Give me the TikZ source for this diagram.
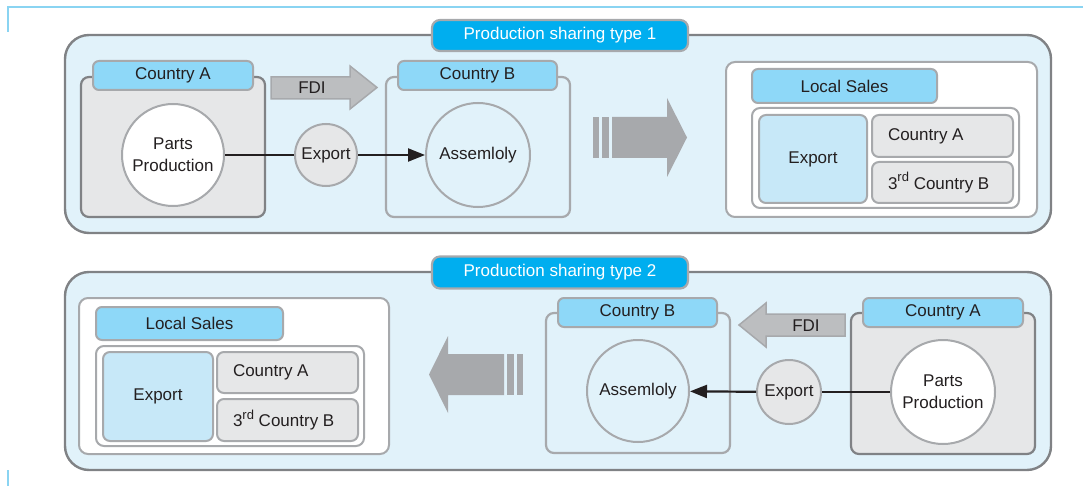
\documentclass[tikz,border=0pt]{standalone}
\usepackage{fontspec}
\setmainfont{Liberation Sans}
\usetikzlibrary{arrows.meta}

\definecolor{paneblue}{HTML}{E1F2FA}
\definecolor{framegray}{HTML}{808285}
\definecolor{edgegray}{HTML}{A7A9AC}
\definecolor{tabcyan}{HTML}{00AEEF}
\definecolor{hdrblue}{HTML}{8ED8F8}
\definecolor{boxgray}{HTML}{E6E7E8}
\definecolor{expblue}{HTML}{C7E8F8}
\definecolor{fdigray}{HTML}{BCBEC0}
\definecolor{inkgray}{HTML}{231F20}
\definecolor{decoblue}{HTML}{8AD4F2}

\newcommand{\rdsup}{\raisebox{0.42em}{\fontsize{13}{13}\selectfont rd}}

\begin{document}
\begin{tikzpicture}[
    x=1pt, y=-1pt,
    >={Triangle[length=17pt,width=13pt]},
    every node/.style={align=center, inner sep=0pt, text=inkgray,
        font=\fontsize{17}{22}\selectfont},
    panel/.style={
        draw=framegray,
        line width=2.4pt,
        fill=paneblue,
        rounded corners=24pt
    },
    tab/.style={
        draw=edgegray,
        line width=2.2pt,
        fill=tabcyan,
        rounded corners=8pt,
        text=white
    },
    ctrybox/.style={
        draw=framegray,
        line width=2.2pt,
        fill=boxgray,
        rounded corners=8pt
    },
    hdr/.style={
        draw=edgegray,
        line width=2pt,
        fill=hdrblue,
        rounded corners=6pt
    },
    salesbox/.style={
        draw=edgegray,
        line width=2pt,
        fill=white,
        rounded corners=9pt
    },
    cell/.style={
        draw=edgegray,
        line width=2pt,
        fill=boxgray,
        rounded corners=7pt
    },
    namecell/.style={
        cell,
        minimum width=141,
        text width=109pt,
        align=flush left
    },
    site/.style={
        circle,
        draw=edgegray,
        line width=2pt
    },
    flow/.style={
        ->,
        line width=2.2pt,
        draw=inkgray
    },
    fdiarrow/.style={
        draw=edgegray,
        line width=1.5pt,
        fill=fdigray
    },
    bigarrow/.style={
        fill=edgegray
    },
    deco/.style={
        draw=decoblue,
        line width=1.2pt
    }
]
\useasboundingbox (0,0) rectangle (1083,486);

% corner marks
\draw[deco] (8,32) -- (8,7) -- (1083,7);
\draw[deco] (8,470) -- (8,486);

% ---------- type 1 ----------
\node[panel, minimum width=986, minimum height=198] (panelA) at (558,134) {};
\node[tab, minimum width=256, minimum height=31] (tabA) at (560,35.5) {Production sharing type 1};

\node[ctrybox, minimum width=184, minimum height=140] (ctryA1) at (173,147) {};
\node[hdr, minimum width=160, minimum height=29] (ctryA1h) at (173,75.5) {Country A};
\node[site, fill=white, minimum size=102] (parts1) at (173,155) {Parts\\Production};

\draw[fdiarrow] (271,77) -- (350,77) -- (350,66) -- (377,87.5)
    -- (350,109) -- (350,99) -- (271,99) -- cycle;
\node (fdi1) at (312,88) {FDI};

\node[site, fill=boxgray, minimum size=62] (exp1) at (326,155) {Export};

\node[ctrybox, draw=edgegray, fill=paneblue, minimum width=184, minimum height=140] (ctryB1) at (478,147) {};
\node[hdr, minimum width=159, minimum height=29] (ctryB1h) at (477.5,75.5) {Country B};
\node[site, fill=paneblue, minimum size=104] (asm1) at (478,155) {Assemloly};

\draw[flow, -] (parts1) -- (exp1);
\draw[flow] (exp1) -- (asm1);

\fill[bigarrow] (593,117) rectangle (599,158);
\fill[bigarrow] (602,117) rectangle (609,158);
\fill[bigarrow] (612,117) -- (667,117) -- (667,98) -- (687,137.5)
    -- (667,177) -- (667,158) -- (612,158) -- cycle;

\node[salesbox, minimum width=311, minimum height=155] (sales1) at (881.5,139.5) {};
\node[hdr, minimum width=185, minimum height=34] (sales1h) at (844.5,86) {Local Sales};
\node[salesbox, rounded corners=8pt, minimum width=267, minimum height=100] (mkt1) at (885.5,158) {};
\node[cell, fill=expblue, minimum width=108, minimum height=88] (mktexp1) at (813,159) {Export};
\node[namecell, minimum height=42] (mktA1) at (942.5,136) {Country A};
\node[namecell, minimum height=41] (mktB1) at (942.5,182.5) {3\rdsup{} Country B};

% ---------- type 2 ----------
\node[panel, minimum width=986, minimum height=198] (panelB) at (558,371) {};
\node[tab, minimum width=256, minimum height=32] (tabB) at (560,272.5) {Production sharing type 2};

\node[salesbox, minimum width=310, minimum height=156] (sales2) at (234,376) {};
\node[hdr, minimum width=187, minimum height=33] (sales2h) at (189.5,323.5) {Local Sales};
\node[salesbox, rounded corners=8pt, minimum width=268, minimum height=100] (mkt2) at (230,396) {};
\node[cell, fill=expblue, minimum width=110, minimum height=89] (mktexp2) at (158,396.5) {Export};
\node[namecell, minimum height=41] (mktA2) at (287.5,372.5) {Country A};
\node[namecell, minimum height=42] (mktB2) at (287.5,420) {3\rdsup{} Country B};

\fill[bigarrow] (523,354) rectangle (517,395);
\fill[bigarrow] (514,354) rectangle (507,395);
\fill[bigarrow] (504,354) -- (448,354) -- (448,336) -- (429,374.5)
    -- (448,413) -- (448,395) -- (504,395) -- cycle;

\node[ctrybox, draw=edgegray, fill=paneblue, minimum width=184, minimum height=140] (ctryB2) at (638,383) {};
\node[hdr, minimum width=159, minimum height=29] (ctryB2h) at (637.5,312.5) {Country B};
\node[site, fill=paneblue, minimum size=102] (asm2) at (638,391) {Assemloly};

\draw[fdiarrow] (845,314) -- (766,314) -- (766,303) -- (739,325)
    -- (766,347) -- (766,336) -- (845,336) -- cycle;
\node (fdi2) at (806,325.5) {FDI};

\node[site, fill=boxgray, minimum size=64] (exp2) at (789,392) {Export};

\node[ctrybox, minimum width=184, minimum height=141] (ctryA2) at (943,383.5) {};
\node[hdr, minimum width=160, minimum height=29] (ctryA2h) at (943,312.5) {Country A};
\node[site, fill=white, minimum size=104] (parts2) at (943,392) {Parts\\Production};

\draw[flow, -] (parts2) -- (exp2);
\draw[flow] (exp2) -- (asm2);
\end{tikzpicture}
\end{document}
